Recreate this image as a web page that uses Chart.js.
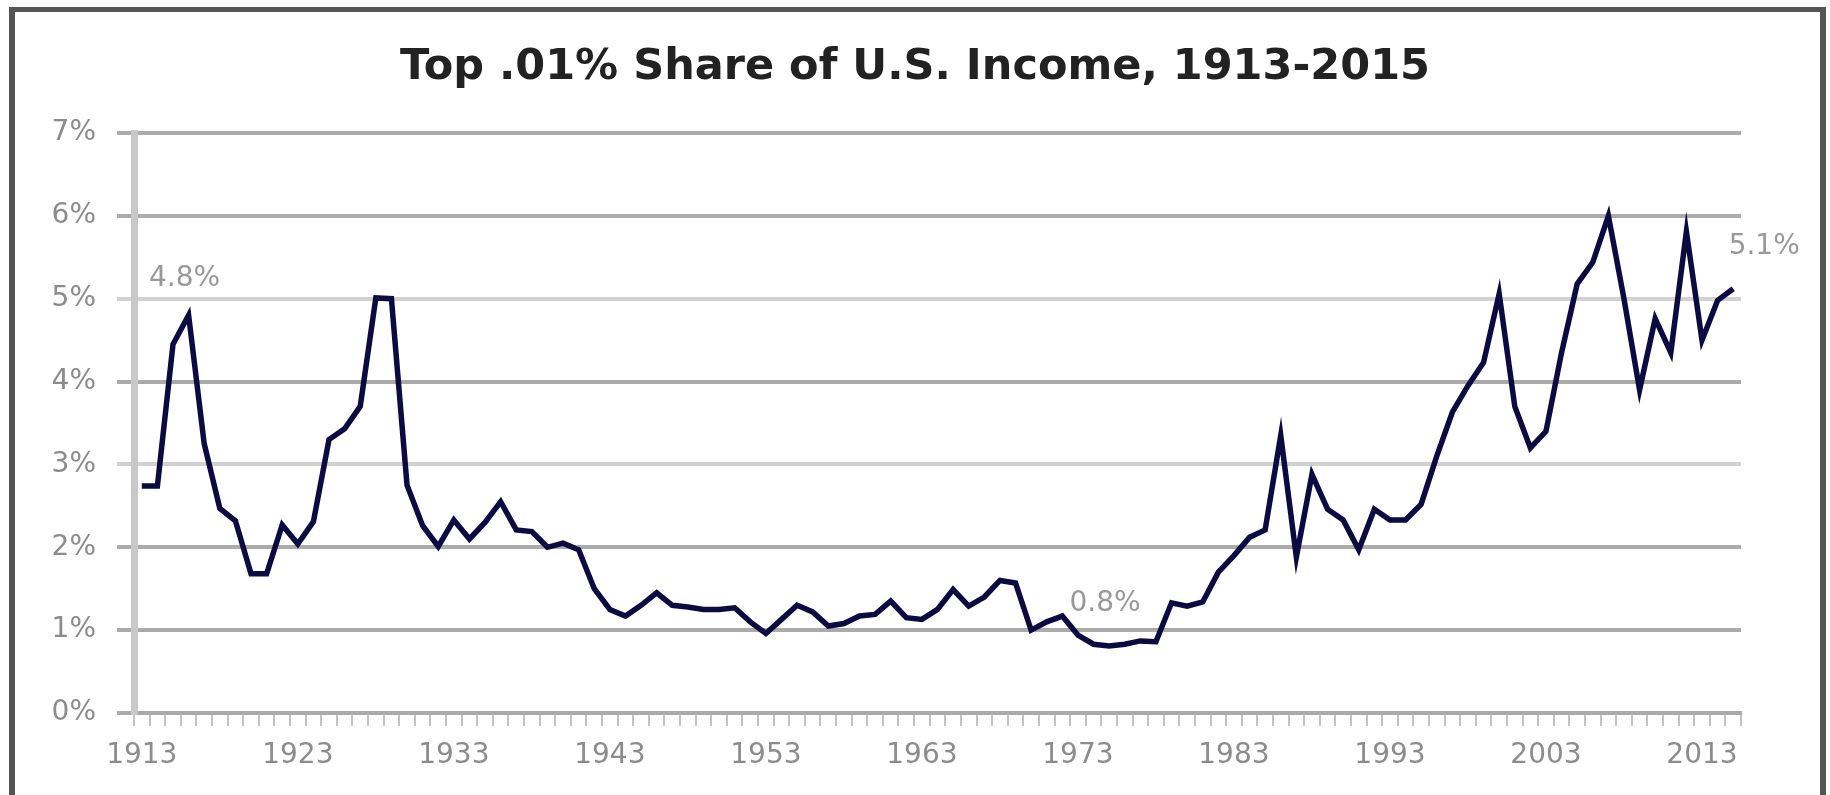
<!DOCTYPE html>
<html lang="en">
  <head>
    <meta charset="UTF-8" />
    <title>Top .01% Share of U.S. Income, 1913-2015</title>
    <script src="https://cdn.jsdelivr.net/npm/chart.js"></script>
    <style>
      html, body {
        margin: 0;
        padding: 0;
        background: #ffffff;
        overflow: hidden;
      }
      #frame {
        position: absolute;
        left: 9px;
        top: 7px;
        width: 1805px;
        height: 800px;
        border-left: 6px solid #555555;
        border-top: 5px solid #555555;
        border-right: 6px solid #555555;
      }
      canvas {
        position: absolute;
        left: 0;
        top: 0;
      }
    </style>
  </head>
  <body>
    <div id="frame"></div>
    <canvas id="incomeChart" width="1830" height="795"></canvas>

    <script>
      // Top .01% income share, percent, one value per year
      const firstYear = 1913;
      const years = Array.from({ length: 103 }, (_, i) => String(firstYear + i));

      const share = [
        2.74, 2.74, 4.45, 4.8, 3.25, 2.47, 2.32, 1.68, 1.68, 2.27, // 1913-1922
        2.04, 2.31, 3.3, 3.43, 3.7, 5.01, 5.0, 2.75, 2.26, 2.01, // 1923-1932
        2.33, 2.1, 2.3, 2.55, 2.21, 2.19, 2.0, 2.05, 1.97, 1.5, // 1933-1942
        1.25, 1.17, 1.3, 1.45, 1.3, 1.28, 1.25, 1.25, 1.27, 1.1, // 1943-1952
        0.96, 1.13, 1.3, 1.22, 1.05, 1.08, 1.17, 1.19, 1.35, 1.15, // 1953-1962
        1.13, 1.25, 1.49, 1.29, 1.4, 1.6, 1.57, 1.0, 1.1, 1.17, // 1963-1972
        0.94, 0.83, 0.81, 0.83, 0.87, 0.86, 1.33, 1.29, 1.34, 1.7, // 1973-1982
        1.9, 2.12, 2.21, 3.35, 1.88, 2.88, 2.46, 2.33, 1.97, 2.46, // 1983-1992
        2.33, 2.33, 2.52, 3.1, 3.63, 3.95, 4.23, 5.06, 3.7, 3.2, // 1993-2002
        3.4, 4.35, 5.18, 5.44, 6.0, 5.0, 3.9, 4.76, 4.35, 5.81, // 2003-2012
        4.5, 4.98, 5.12, // 2013-2015
      ];

      const tickYears = ["1913", "1923", "1933", "1943", "1953", "1963", "1973", "1983", "1993", "2003", "2013"];

      // data labels shown on the line
      const labelYears = ["1916", "1975", "2015"];
      const labelTexts = ["4.8%", "0.8%", "5.1%"];

      const chartTitle = "Top .01% Share of U.S. Income, 1913-2015";

      const tickFont = { family: "DejaVu Sans", size: 28 };
      const tickColor = "#8c8c8c";

      // title drawn centred on the whole canvas
      const titlePlugin = {
        id: "centeredTitle",
        afterDraw(chart) {
          const ctx = chart.ctx;
          ctx.save();
          ctx.font = "bold 43px 'DejaVu Sans'";
          ctx.fillStyle = "#222222";
          ctx.textAlign = "center";
          ctx.textBaseline = "middle";
          ctx.fillText(chartTitle, chart.width / 2, 68);
          ctx.restore();
        },
      };

      // value labels above a few points
      const pointLabels = {
        id: "pointLabels",
        afterDatasetsDraw(chart) {
          const meta = chart.getDatasetMeta(0);
          const ctx = chart.ctx;
          ctx.save();
          ctx.font = "28px 'DejaVu Sans'";
          ctx.fillStyle = "#999999";
          ctx.textAlign = "center";
          ctx.textBaseline = "middle";
          labelYears.forEach((yr, k) => {
            const idx = years.indexOf(yr);
            const pt = meta.data[idx];
            let dx = -4;
            let dy = -42;
            if (k === 0) dy = -37;
            if (k === labelYears.length - 1) dx = 31;
            ctx.fillText(labelTexts[k], pt.x + dx, pt.y + dy);
          });
          ctx.restore();
        },
      };

      const ctx = document.getElementById("incomeChart").getContext("2d");

      new Chart(ctx, {
        type: "line",
        data: {
          labels: years,
          datasets: [
            {
              label: "Top .01% share",
              data: share,
              borderColor: "#0b0b42",
              borderWidth: 5.5,
              pointRadius: 0,
              tension: 0,
              fill: false,
            },
          ],
        },
        options: {
          responsive: false,
          devicePixelRatio: 1,
          animation: false,
          layout: {
            padding: { top: 133, right: 89, bottom: 0, left: 0 },
          },
          plugins: {
            legend: { display: false },
            title: { display: false },
            tooltip: { enabled: false },
          },
          scales: {
            x: {
              type: "category",
              offset: true,
              grid: {
                offset: true,
                drawOnChartArea: false,
                drawTicks: true,
                tickLength: 13,
                color: "#c4c4c4",
                lineWidth: 2,
              },
              border: { display: true, color: "#aaaaaa", width: 4 },
              ticks: {
                autoSkip: false,
                maxRotation: 0,
                minRotation: 0,
                padding: 13,
                font: tickFont,
                color: tickColor,
                callback: function (value, index) {
                  const yr = years[index];
                  return tickYears.includes(yr) ? yr : "";
                },
              },
              afterFit(scale) {
                scale.height = 82;
              },
            },
            y: {
              min: 0,
              max: 7,
              grid: {
                drawTicks: true,
                tickLength: 17,
                lineWidth: 4,
                color: function (c) {
                  const v = c.tick ? c.tick.value : 0;
                  return v === 3 || v === 5 ? "#d2d2d2" : "#ababab";
                },
              },
              border: { display: true, color: "#c8c8c8", width: 7 },
              ticks: {
                stepSize: 1,
                padding: 21,
                font: tickFont,
                color: tickColor,
                callback: (v) => v + "%",
              },
              afterFit(scale) {
                scale.width = 134;
              },
            },
          },
        },
        plugins: [titlePlugin, pointLabels],
      });
    </script>
  </body>
</html>
